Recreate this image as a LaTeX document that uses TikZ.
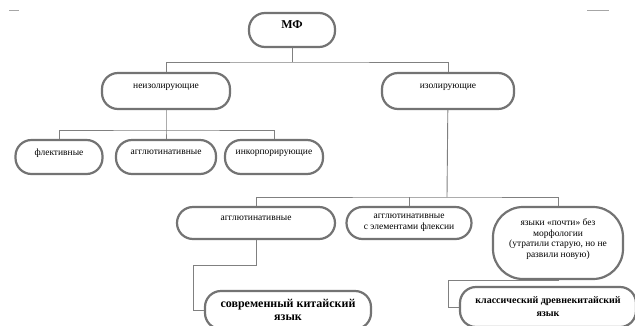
\documentclass[tikz,border=0pt]{standalone}
\usepackage{fontspec}
\setmainfont{Liberation Serif}

\begin{document}
\begin{tikzpicture}[x=1pt, y=-1pt,
  box/.style={rectangle, draw=black!55, line width=2.2pt, rounded corners=16pt, fill=white, inner sep=1pt, align=center, font=\fontsize{9.5}{10.5}\selectfont},
  lift/.style={text depth=10pt},
  link/.style={draw=black!50, line width=0.9pt}]
\useasboundingbox (0,0) rectangle (635,325);
\draw[black!35, line width=1pt] (9,10) -- (19,10);
\draw[black!35, line width=1pt] (587,10) -- (609,10);

\node (mf)[box, lift, minimum width=86pt, minimum height=34pt, font=\bfseries\fontsize{12}{13}\selectfont] at (292, 30) {МФ};

\node (neiz)[box, lift, minimum width=128pt, minimum height=36pt] at (166, 91) {неизолирующие};
\node (iz)[box, lift, minimum width=132pt, minimum height=36pt] at (448, 91) {изолирующие};

\node (flek)[box, lift, minimum width=87pt, minimum height=34pt] at (59, 157) {флективные};
\node (aggl)[box, lift, minimum width=100pt, minimum height=34pt] at (166, 157) {агглютинативные};
\node (inkor)[box, lift, minimum width=98pt, minimum height=34pt] at (274, 157) {инкорпорирующие};

\node (agglb)[box, lift, minimum width=158pt, minimum height=32pt] at (256, 223) {агглютинативные};
\node (flex)[box, minimum width=125pt, minimum height=32pt] at (409, 223) {агглютинативные\\с элементами флексии};
\node (pochti)[box, lift, minimum width=130pt, minimum height=72pt, rounded corners=30pt] at (558, 243) {языки «почти» без\\морфологии\\(утратили старую, но не\\развили новую)};

\node (kit)[box, minimum width=166pt, minimum height=38pt, font=\bfseries\fontsize{12}{13}\selectfont] at (288, 310) {современный китайский\\язык};
\node (klass)[box, minimum width=176pt, minimum height=40pt, font=\bfseries\fontsize{10}{13}\selectfont] at (548, 307) {классический древнекитайский\\язык};

% branch points
\coordinate (b1) at (292, 62);
\coordinate (b2) at (166, 130);
\coordinate (b3) at (447, 197);
\coordinate (k1) at (193, 265);
\coordinate (k2) at (448, 280);

\draw[link] (mf) -- (b1);
\draw[link] (neiz.north) |- (b1) -| (iz.north);

\draw[link] (neiz) -- (b2) -- (aggl);
\draw[link] (flek.north) |- (b2) -| (inkor.north);

\draw[link] (iz) -- (b3);
\draw[link] (agglb.north) |- (b3) -| (pochti.north);
\draw[link] (flex.north) -- (flex.north |- b3);

\draw[link] (agglb.south) |- (k1) |- (kit.west);
\draw[link] (pochti.south) |- (k2) |- (klass.west);
\end{tikzpicture}
\end{document}
